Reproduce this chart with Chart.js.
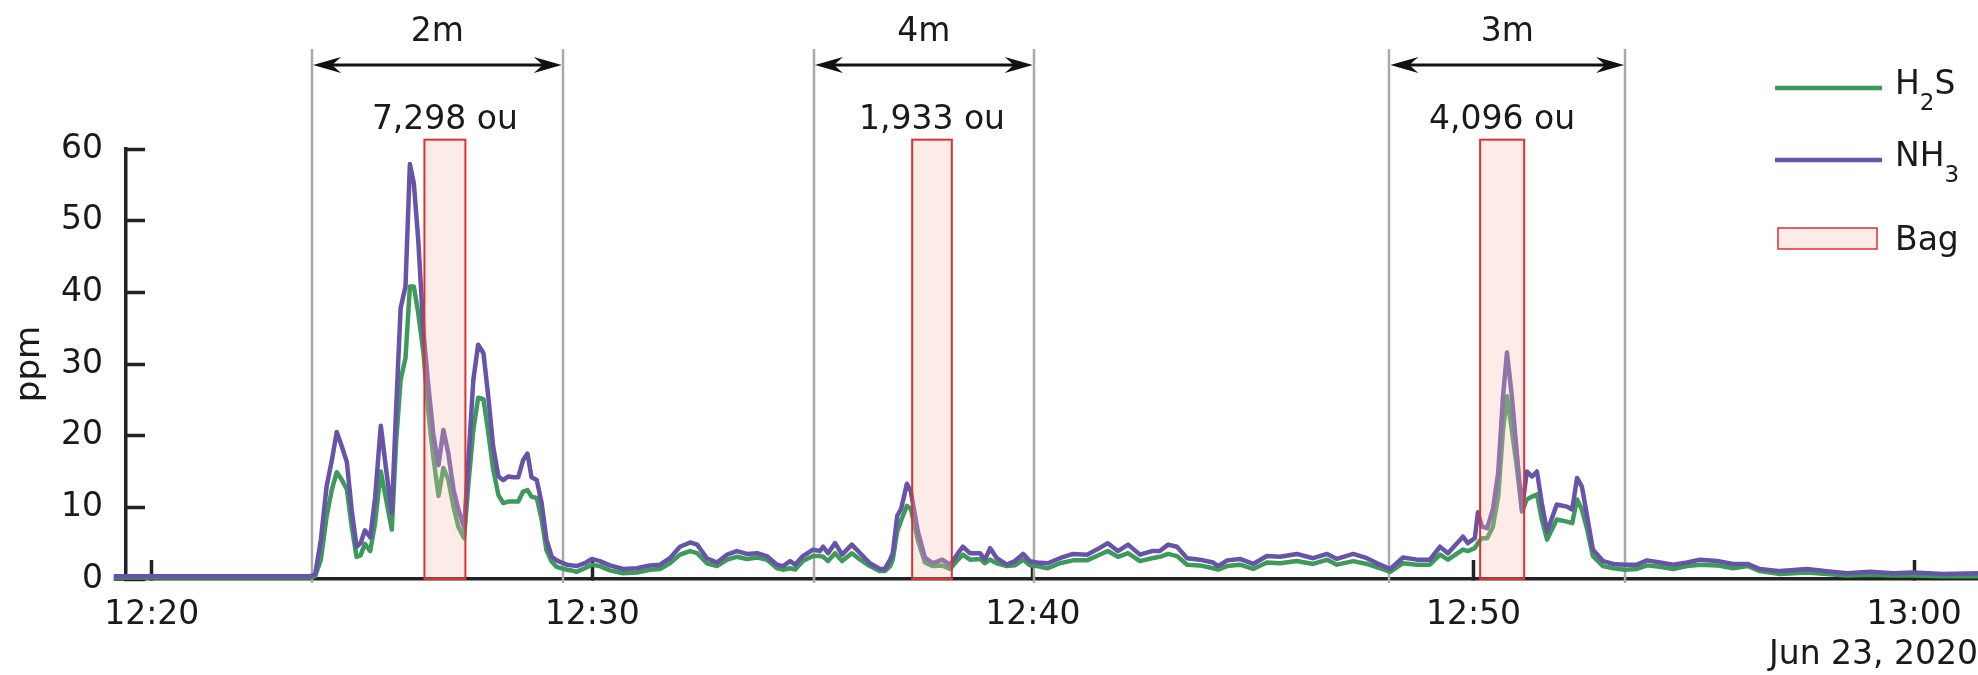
<!DOCTYPE html>
<html>
<head>
<meta charset="utf-8">
<script src="https://cdn.jsdelivr.net/npm/chart.js@4.4.0/dist/chart.umd.min.js"></script>
<style>
  html, body { margin: 0; padding: 0; background: #fff; }
  canvas { display: block; }
</style>
</head>
<body>
<canvas id="gasChart" width="1978" height="675"></canvas>
<script>
// sample times, minutes past 12:00 on Jun 23, 2020
const minutes = [
    19.14, 19.60, 20.20, 20.80, 21.40, 22.00, 22.60, 23.20, 23.60,
    23.71, 23.84, 23.97, 24.09, 24.20, 24.31, 24.43, 24.54, 24.65, 24.74,
    24.84, 24.96, 25.07, 25.20, 25.32, 25.45, 25.55, 25.65, 25.76, 25.86,
    25.95, 26.05, 26.17, 26.28, 26.39, 26.51, 26.62, 26.73, 26.85, 26.96,
    27.09, 27.19, 27.30, 27.41, 27.53, 27.64, 27.75, 27.87, 27.98, 28.09,
    28.21, 28.32, 28.43, 28.53, 28.62, 28.74, 28.85, 28.96, 29.08, 29.19,
    29.30, 29.42, 29.53, 29.64,
    29.83, 29.99, 30.17, 30.40, 30.70, 31.01, 31.31, 31.54, 31.76, 31.99,
    32.22, 32.38, 32.60, 32.83, 33.06, 33.28, 33.51, 33.74, 33.96, 34.19,
    34.33, 34.49, 34.60, 34.78, 35.01, 35.17, 35.24, 35.35, 35.51, 35.67,
    35.89, 36.08, 36.30, 36.53, 36.64, 36.76, 36.82, 36.92, 37.01, 37.14,
    37.23, 37.39, 37.55, 37.73, 37.94, 38.12, 38.30, 38.41, 38.57, 38.80,
    38.91, 39.03, 39.18, 39.41, 39.59, 39.78, 39.93, 40.09, 40.34, 40.61,
    40.91, 41.23, 41.45, 41.70, 41.93, 42.16, 42.43, 42.70, 42.88, 43.07,
    43.27, 43.50, 43.79, 44.09, 44.20, 44.41, 44.70, 45.00, 45.31, 45.61,
    45.99, 46.36, 46.68, 46.90, 47.27, 47.58, 47.88, 48.11, 48.40, 48.72,
    49.01, 49.24, 49.42, 49.76, 49.87, 50.03, 50.10, 50.19, 50.31, 50.44,
    50.56, 50.67, 50.76, 50.87, 50.99, 51.10, 51.21, 51.33, 51.44, 51.55,
    51.67, 51.89, 52.12, 52.24, 52.35, 52.46, 52.58, 52.71, 52.94, 53.17,
    53.44, 53.71, 53.94, 54.23, 54.53, 54.85, 55.14, 55.53, 55.89, 56.23,
    56.50, 56.96, 57.57, 58.02, 58.48, 59.00, 59.52, 59.97, 60.66, 61.45
];

const h2s = [
    0.2, 0.2, 0.2, 0.2, 0.2, 0.2, 0.2, 0.2, 0.2,
    0.4, 2.7, 8.7, 12.5, 14.9, 13.9, 12.5, 7.3, 3.1, 3.3,
    4.9, 3.9, 7.8, 15.0, 11.1, 6.9, 19.4, 27.8, 30.8, 40.8,
    40.8, 37.1, 31.5, 23.2, 17.1, 11.6, 15.5, 13.9, 10.1, 7.3,
    5.7, 13.4, 20.8, 25.3, 25.1, 20.4, 15.3, 11.7, 10.6, 10.8,
    10.8, 10.8, 12.2, 12.4, 11.5, 11.3, 8.3, 4.0, 2.4, 1.7,
    1.5, 1.3, 1.2, 1.0,
    1.5, 2.0, 1.8, 1.2, 0.8, 0.9, 1.3, 1.4, 2.2, 3.4,
    3.9, 3.6, 2.2, 1.8, 2.7, 3.1, 2.8, 3.0, 2.7, 1.5,
    1.3, 1.5, 1.3, 2.5, 3.2, 3.2, 3.1, 2.5, 3.6, 2.5,
    3.6, 2.7, 1.8, 1.1, 1.1, 1.8, 2.7, 6.6, 8.2, 10.2,
    9.8, 5.4, 2.3, 1.8, 1.9, 1.4, 2.7, 3.4, 2.7, 2.8,
    2.2, 2.7, 2.2, 1.8, 1.9, 2.7, 1.9, 1.8, 1.5, 2.2,
    2.6, 2.6, 3.2, 3.9, 3.1, 3.6, 2.5, 2.9, 3.1, 3.5,
    3.2, 2.0, 1.9, 1.5, 1.3, 1.8, 2.0, 1.4, 2.3, 2.2,
    2.5, 2.1, 2.7, 2.0, 2.5, 2.1, 1.5, 1.0, 2.2, 2.0,
    2.0, 3.4, 2.7, 4.1, 3.9, 4.3, 5.0, 5.7, 5.7, 7.3,
    11.5, 20.8, 25.5, 20.8, 15.3, 9.4, 11.1, 11.5, 11.8, 8.3,
    5.5, 8.3, 8.0, 7.8, 11.1, 9.7, 6.9, 3.2, 1.8, 1.5,
    1.3, 1.4, 1.9, 1.7, 1.4, 1.8, 2.0, 1.9, 1.5, 1.8,
    1.1, 0.7, 0.9, 0.7, 0.5, 0.6, 0.5, 0.5, 0.4, 0.4
];

const nh3 = [
    0.4, 0.4, 0.4, 0.4, 0.4, 0.4, 0.4, 0.4, 0.4,
    0.6, 5.5, 12.9, 16.6, 20.5, 18.6, 16.3, 9.6, 4.5, 5.0,
    6.8, 5.8, 11.3, 21.4, 15.3, 9.2, 24.1, 37.8, 40.8, 57.9,
    55.2, 47.3, 34.3, 26.9, 20.3, 15.9, 20.8, 17.6, 12.5, 9.7,
    7.2, 16.7, 27.8, 32.7, 31.5, 25.4, 18.5, 14.3, 13.8, 14.3,
    14.2, 14.2, 16.6, 17.5, 14.2, 13.8, 10.6, 5.5, 3.1, 2.6,
    2.3, 2.0, 1.9, 1.8,
    2.2, 2.8, 2.5, 1.9, 1.4, 1.5, 1.9, 2.0, 2.9, 4.5,
    5.1, 4.8, 2.9, 2.3, 3.4, 3.9, 3.5, 3.6, 3.2, 2.0,
    1.8, 2.5, 2.0, 3.2, 4.1, 3.9, 4.5, 3.6, 5.0, 3.4,
    4.8, 3.6, 2.2, 1.4, 1.4, 2.7, 3.6, 8.8, 9.8, 13.3,
    12.2, 6.6, 3.0, 2.2, 2.7, 2.0, 3.6, 4.5, 3.6, 3.6,
    2.7, 4.3, 2.9, 2.0, 2.5, 3.5, 2.5, 2.3, 2.2, 2.9,
    3.5, 3.4, 4.1, 5.0, 3.9, 4.8, 3.4, 3.9, 3.9, 4.8,
    4.5, 2.9, 2.7, 2.3, 1.8, 2.6, 2.8, 2.1, 3.2, 3.1,
    3.5, 2.9, 3.5, 2.8, 3.5, 2.9, 2.0, 1.4, 3.0, 2.7,
    2.7, 4.5, 3.6, 5.9, 5.0, 5.7, 9.3, 7.3, 7.1, 9.7,
    14.8, 25.5, 31.6, 25.5, 17.1, 9.7, 15.0, 14.3, 15.0, 10.6,
    6.6, 10.4, 10.1, 9.7, 14.1, 12.9, 8.7, 4.1, 2.5, 2.1,
    2.0, 2.0, 2.6, 2.3, 2.0, 2.3, 2.7, 2.5, 2.1, 2.1,
    1.4, 1.1, 1.4, 1.1, 0.8, 1.0, 0.8, 0.9, 0.7, 0.8
];

// x axis ticks
const tickMinutes = [20, 30, 40, 50, 60];
const tickLabels = ['12:20', '12:30', '12:40', '12:50', '13:00'];

// sampling windows (gray lines + arrows)
const windowStart = [23.64, 35.03, 48.09];
const windowEnd = [29.33, 40.02, 53.44];
const windowLabels = ['2m', '4m', '3m'];

// odour bag fills
const bagStart = [26.19, 37.26, 50.15];
const bagEnd = [27.12, 38.16, 51.15];
const bagTop = 61.3;
const bagLabels = ['7,298 ou', '1,933 ou', '4,096 ou'];

const GREEN = '#3e9a5b';
const PURPLE = '#6753a8';
const FONT = '"DejaVu Sans", Verdana, sans-serif';
const TEXT = '#1a1a1a';
const FS = 33;

Chart.defaults.font.family = FONT;
Chart.defaults.font.size = FS;
Chart.defaults.color = TEXT;

function arrowHead(ctx, tipX, y, dir) {
    ctx.beginPath();
    ctx.moveTo(tipX, y);
    ctx.lineTo(tipX - dir * 28, y - 8);
    ctx.lineTo(tipX - dir * 19, y);
    ctx.lineTo(tipX - dir * 28, y + 8);
    ctx.closePath();
    ctx.fill();
}

// text with a subscript part, e.g. H2S
function formula(ctx, parts, x, baseline) {
    parts.forEach(p => {
        ctx.font = (p.sub ? '23px ' : FS + 'px ') + FONT;
        ctx.fillText(p.t, x, baseline + (p.sub ? 16 : 0));
        x += ctx.measureText(p.t).width;
    });
}

const overlay = {
    id: 'overlay',
    beforeDatasetsDraw(chart) {
        const { ctx, scales: { x, y } } = chart;
        ctx.save();
        ctx.strokeStyle = '#aaaaaa';
        ctx.lineWidth = 2.5;
        windowStart.concat(windowEnd).forEach(t => {
            const px = Math.round(x.getPixelForValue(t));
            ctx.beginPath();
            ctx.moveTo(px, 49);
            ctx.lineTo(px, y.getPixelForValue(0) + 4);
            ctx.stroke();
        });
        // x axis runs a little left of the y axis
        ctx.strokeStyle = '#222';
        ctx.lineWidth = 3.5;
        ctx.beginPath();
        ctx.moveTo(x.getPixelForValue(minutes[0]), y.getPixelForValue(0));
        ctx.lineTo(chart.chartArea.left, y.getPixelForValue(0));
        ctx.stroke();
        ctx.restore();
    },
    afterDatasetsDraw(chart) {
        const { ctx, scales: { x, y } } = chart;
        ctx.save();

        // bags
        bagStart.forEach((s, i) => {
            const x1 = x.getPixelForValue(s);
            const x2 = x.getPixelForValue(bagEnd[i]);
            const y1 = y.getPixelForValue(bagTop);
            const y2 = y.getPixelForValue(0);
            ctx.fillStyle = 'rgba(245, 190, 175, 0.3)';
            ctx.fillRect(x1, y1, x2 - x1, y2 - y1);
            ctx.strokeStyle = '#dc3232';
            ctx.lineWidth = 2;
            ctx.strokeRect(x1, y1, x2 - x1, y2 - y1);
            ctx.fillStyle = TEXT;
            ctx.font = FS + 'px ' + FONT;
            ctx.textAlign = 'center';
            ctx.textBaseline = 'middle';
            ctx.fillText(bagLabels[i], (x1 + x2) / 2, 120);
        });

        // arrows and durations
        ctx.strokeStyle = '#111';
        ctx.lineWidth = 3;
        windowStart.forEach((s, i) => {
            const x1 = x.getPixelForValue(s);
            const x2 = x.getPixelForValue(windowEnd[i]);
            ctx.fillStyle = '#111';
            ctx.beginPath();
            ctx.moveTo(x1 + 10, 65);
            ctx.lineTo(x2 - 10, 65);
            ctx.stroke();
            arrowHead(ctx, x1 + 1, 65, -1);
            arrowHead(ctx, x2 - 1, 65, 1);
            ctx.fillStyle = TEXT;
            ctx.font = FS + 'px ' + FONT;
            ctx.textAlign = 'center';
            ctx.textBaseline = 'middle';
            ctx.fillText(windowLabels[i], (x1 + x2) / 2, 32);
        });

        // legend
        ctx.lineWidth = 4.5;
        ctx.strokeStyle = GREEN;
        ctx.beginPath(); ctx.moveTo(1775, 88); ctx.lineTo(1882, 88); ctx.stroke();
        ctx.strokeStyle = PURPLE;
        ctx.beginPath(); ctx.moveTo(1775, 160); ctx.lineTo(1882, 160); ctx.stroke();
        ctx.fillStyle = 'rgba(245, 190, 175, 0.3)';
        ctx.fillRect(1778, 228, 99, 21);
        ctx.strokeStyle = '#dc3232';
        ctx.lineWidth = 1.5;
        ctx.strokeRect(1778, 228, 99, 21);

        ctx.fillStyle = TEXT;
        ctx.textAlign = 'left';
        ctx.textBaseline = 'alphabetic';
        formula(ctx, [{ t: 'H' }, { t: '2', sub: true }, { t: 'S' }], 1895, 94);
        formula(ctx, [{ t: 'NH' }, { t: '3', sub: true }], 1895, 166);
        formula(ctx, [{ t: 'Bag' }], 1895, 250);
        ctx.restore();
    }
};

const lineClip = { left: 14, top: 10, right: 0, bottom: 5 };

new Chart(document.getElementById('gasChart'), {
    type: 'line',
    data: {
        datasets: [
            {
                label: 'NH3',
                data: minutes.map((m, i) => ({ x: m, y: nh3[i] })),
                borderColor: PURPLE,
                borderWidth: 4.5,
                pointRadius: 0,
                tension: 0,
                borderJoinStyle: 'round',
                clip: lineClip,
                order: 0
            },
            {
                label: 'H2S',
                data: minutes.map((m, i) => ({ x: m, y: h2s[i] })),
                borderColor: GREEN,
                borderWidth: 4.5,
                pointRadius: 0,
                tension: 0,
                borderJoinStyle: 'round',
                clip: lineClip,
                order: 1
            }
        ]
    },
    options: {
        responsive: false,
        animation: false,
        layout: { padding: { top: 149, left: 0, right: 0, bottom: 0 } },
        plugins: {
            legend: { display: false },
            tooltip: { enabled: false }
        },
        scales: {
            x: {
                type: 'linear',
                min: 19.417,
                max: 61.45,
                afterFit: s => { s.height = 96; s.paddingLeft = 0; s.paddingRight = 0; },
                afterBuildTicks: s => { s.ticks = tickMinutes.map(v => ({ value: v })); },
                border: { display: true, color: '#222', width: 3.5 },
                grid: { drawOnChartArea: false, drawTicks: true, tickLength: -19, tickWidth: 3.5, tickColor: '#222' },
                ticks: {
                    padding: 36,
                    maxRotation: 0,
                    autoSkip: false,
                    color: TEXT,
                    callback: (v, i) => tickLabels[i]
                },
                title: { display: true, text: 'Jun 23, 2020', align: 'end', color: TEXT, padding: { top: 0, bottom: 0 } }
            },
            y: {
                min: 0,
                max: 60,
                afterFit: s => { s.width = 126; s.paddingTop = 0; s.paddingBottom = 0; },
                border: { display: true, color: '#222', width: 3.5 },
                grid: { drawOnChartArea: false, drawTicks: true, tickLength: -19, tickWidth: 3.5, tickColor: '#222' },
                ticks: { stepSize: 10, padding: 42, color: TEXT },
                title: { display: true, text: 'ppm', color: TEXT, font: { size: 34 }, padding: { top: 10, bottom: 0 } }
            }
        }
    },
    plugins: [overlay]
});
</script>
</body>
</html>
